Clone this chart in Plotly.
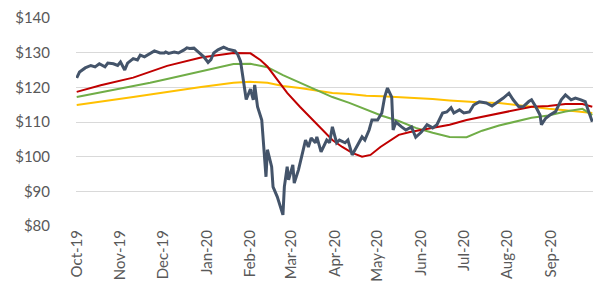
import plotly.graph_objects as go

# Price series (date, value)
price_dates = [
    "2019-10-01", "2019-10-03", "2019-10-07", "2019-10-11", "2019-10-14", "2019-10-17",
    "2019-10-21", "2019-10-23", "2019-10-27", "2019-10-30", "2019-11-01", "2019-11-04",
    "2019-11-06", "2019-11-10", "2019-11-13", "2019-11-15", "2019-11-18", "2019-11-22",
    "2019-11-25", "2019-11-29", "2019-12-02", "2019-12-03", "2019-12-05", "2019-12-09",
    "2019-12-12", "2019-12-16", "2019-12-18", "2019-12-20", "2019-12-23", "2019-12-26",
    "2019-12-30", "2020-01-02", "2020-01-04", "2020-01-06", "2020-01-09", "2020-01-13",
    "2020-01-16", "2020-01-21", "2020-01-23", "2020-01-25", "2020-01-27", "2020-01-29",
    "2020-02-01", "2020-02-03", "2020-02-04", "2020-02-06", "2020-02-09", "2020-02-10",
    "2020-02-12", "2020-02-13", "2020-02-16", "2020-02-17", "2020-02-20", "2020-02-24",
    "2020-02-25", "2020-02-27", "2020-02-28", "2020-03-02", "2020-03-03", "2020-03-06",
    "2020-03-08", "2020-03-11", "2020-03-13", "2020-03-15", "2020-03-18", "2020-03-19",
    "2020-03-22", "2020-03-26", "2020-03-28", "2020-03-30", "2020-04-02", "2020-04-04",
    "2020-04-08", "2020-04-10", "2020-04-13", "2020-04-16", "2020-04-20", "2020-04-22",
    "2020-04-25", "2020-04-27", "2020-05-01", "2020-05-04", "2020-05-06", "2020-05-08",
    "2020-05-11", "2020-05-12", "2020-05-14", "2020-05-18", "2020-05-21", "2020-05-25",
    "2020-05-28", "2020-06-01", "2020-06-05", "2020-06-09", "2020-06-12", "2020-06-16",
    "2020-06-19", "2020-06-22", "2020-06-24", "2020-06-28", "2020-07-01", "2020-07-05",
    "2020-07-08", "2020-07-12", "2020-07-17", "2020-07-21", "2020-07-26", "2020-07-29",
    "2020-08-02", "2020-08-05", "2020-08-09", "2020-08-12", "2020-08-16", "2020-08-18",
    "2020-08-21", "2020-08-24", "2020-08-25", "2020-08-28", "2020-08-31", "2020-09-04",
    "2020-09-08", "2020-09-11", "2020-09-15", "2020-09-18", "2020-09-22", "2020-09-25",
    "2020-09-27", "2020-09-30",
]
price_values = [
    122.7, 124.4, 125.6, 126.3, 125.9, 126.8,
    125.9, 127.0, 126.8, 126.3, 127.3, 125.0,
    127.0, 128.3, 127.9, 129.3, 128.8, 129.9,
    130.5, 129.9, 129.9, 130.2, 129.8, 130.2,
    129.9, 130.8, 131.4, 131.2, 131.3, 130.2,
    128.8, 127.2, 128.0, 129.9, 130.8, 131.6,
    131.0, 130.5, 129.5, 127.5, 122.5, 116.5,
    119.5, 116.4, 120.7, 114.4, 110.6, 105.7,
    94.2, 102.0, 97.1, 91.3, 88.4, 83.2,
    91.3, 97.1, 93.3, 97.6, 92.4, 96.2,
    99.9, 104.8, 102.8, 105.4, 104.0, 105.7,
    101.4, 104.8, 104.0, 108.6, 104.0, 104.8,
    104.0, 104.8, 100.5, 102.8, 105.7, 104.8,
    107.7, 110.6, 110.6, 112.6, 117.2, 119.8,
    117.2, 107.7, 110.0, 108.6, 107.7, 108.6,
    105.6, 107.1, 109.2, 108.3, 109.2, 112.6,
    112.9, 114.1, 112.6, 113.5, 112.6, 112.9,
    114.9, 115.8, 115.5, 114.6, 115.9, 116.9,
    118.3, 116.4, 114.4, 114.4, 115.9, 116.4,
    114.4, 112.0, 109.2, 111.1, 112.0, 113.0,
    116.4, 117.8, 116.4, 116.9, 116.4, 115.9,
    113.5, 110.1,
]

# Short moving average (red)
red_dates = [
    "2019-10-01", "2019-10-18", "2019-11-10", "2019-11-22", "2019-12-04", "2019-12-28",
    "2020-01-20", "2020-02-01", "2020-02-08", "2020-02-13", "2020-02-20", "2020-02-27",
    "2020-03-07", "2020-03-14", "2020-03-21", "2020-03-30", "2020-04-06", "2020-04-13",
    "2020-04-20", "2020-04-26", "2020-05-03", "2020-05-10", "2020-05-16", "2020-05-24",
    "2020-06-09", "2020-06-21", "2020-07-03", "2020-07-14", "2020-07-26", "2020-08-07",
    "2020-08-18", "2020-08-30", "2020-09-11", "2020-09-23", "2020-09-30",
]
red_values = [
    118.7, 120.6, 122.8, 124.4, 126.2, 128.6,
    129.9, 129.8, 127.9, 126.0, 122.1, 118.4,
    114.4, 111.5, 108.8, 104.8, 102.8, 101.1,
    100.0, 100.5, 102.8, 104.8, 106.3, 107.1,
    108.3, 109.2, 110.6, 111.5, 112.5, 113.5,
    114.4, 114.6, 115.2, 115.2, 114.4,
]

# Medium (green) and long (yellow) moving averages
ma_dates = [
    "2019-10-01", "2019-10-18", "2019-11-10", "2019-11-22", "2019-12-04", "2019-12-28",
    "2020-01-20", "2020-02-01", "2020-02-13", "2020-02-24", "2020-03-07", "2020-03-19",
    "2020-03-30", "2020-04-11", "2020-04-23", "2020-05-04", "2020-05-16", "2020-05-28",
    "2020-06-09", "2020-06-21", "2020-07-03", "2020-07-14", "2020-07-26", "2020-08-07",
    "2020-08-18", "2020-08-30", "2020-09-11", "2020-09-23", "2020-09-30",
]
green_values = [
    117.2, 118.5, 120.3, 121.3, 122.4, 124.5,
    126.7, 126.8, 125.8, 123.5, 121.3, 119.3,
    117.2, 115.5, 113.5, 111.8, 110.3, 108.3,
    106.9, 105.7, 105.6, 107.5, 109.0, 110.2,
    111.2, 111.9, 113.0, 113.8, 112.0,
]
yellow_values = [
    114.9, 115.8, 117.2, 117.9, 118.7, 120.1,
    121.3, 121.6, 121.3, 120.4, 119.8, 119.0,
    118.4, 118.1, 117.6, 117.4, 117.2, 116.9,
    116.6, 116.2, 115.8, 115.6, 115.5, 114.9,
    114.3, 113.8, 113.4, 112.9, 112.6,
]

y_ticks = [80, 90, 100, 110, 120, 130, 140]
y_labels = ["$" + str(v) for v in y_ticks]

fig = go.Figure()
fig.add_trace(go.Scatter(x=ma_dates, y=yellow_values, mode="lines",
                         line=dict(color="#FFC000", width=2), name="MA long"))
fig.add_trace(go.Scatter(x=ma_dates, y=green_values, mode="lines",
                         line=dict(color="#70AD47", width=2), name="MA mid"))
fig.add_trace(go.Scatter(x=red_dates, y=red_values, mode="lines",
                         line=dict(color="#C00000", width=2), name="MA short"))
fig.add_trace(go.Scatter(x=price_dates, y=price_values, mode="lines",
                         line=dict(color="#44546A", width=3), name="Price"))

font_family = "Lato, 'Open Sans', sans-serif"
fig.update_layout(
    width=595, height=297,
    margin=dict(l=76, r=2, t=18, b=71),
    plot_bgcolor="white", paper_bgcolor="white",
    showlegend=False,
    font=dict(family=font_family, size=15, color="#595959"),
)
fig.update_xaxes(
    type="date", automargin=False,
    range=["2019-09-30 12:00", "2020-09-30 12:00"],
    tick0="2019-10-01", dtick="M1", tickformat="%b-%y",
    tickangle=-90, showgrid=False, zeroline=False,
    showline=False, ticks="",
    tickfont=dict(size=15, color="#595959"),
)
fig.update_yaxes(
    automargin=False,
    range=[80, 140], tickmode="array", tickvals=y_ticks, ticktext=y_labels,
    showgrid=True, gridcolor="#D9D9D9", gridwidth=1, zeroline=False,
    showline=False, ticks="", ticklabelstandoff=25,
    tickfont=dict(size=15, color="#595959"),
)
fig.write_html(
    "out.html",
    config={"displayModeBar": False},
    post_script="document.body.style.margin='0';document.body.style.overflow='hidden';",
)
